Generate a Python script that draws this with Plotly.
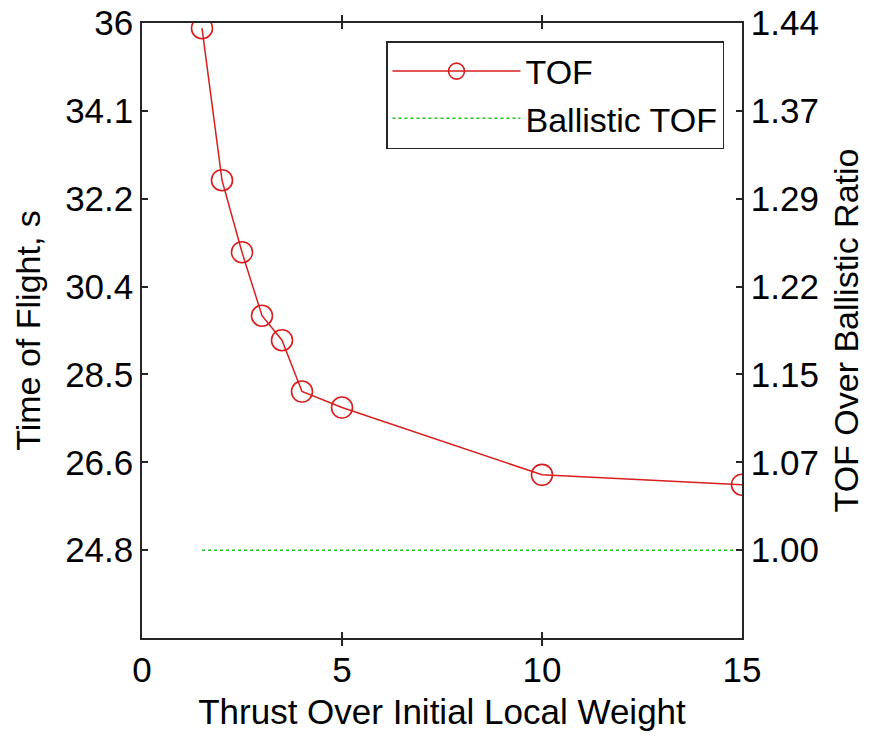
import plotly.graph_objects as go

# ---- data ----
thrust = [1.5, 2.0, 2.5, 3.0, 3.5, 4.0, 5.0, 10.0, 15.0]
tof = [35.89, 32.66, 31.13, 29.78, 29.26, 28.17, 27.83, 26.40, 26.19]
ballistic_x = [1.5, 15.0]
ballistic_tof = [24.8, 24.8]

x_ticks = [0, 5, 10, 15]
left_tickvals = [24.8, 26.667, 28.533, 30.4, 32.267, 34.133, 36.0]
left_ticktext = ["24.8", "26.6", "28.5", "30.4", "32.2", "34.1", "36"]
right_tickvals = [1.0, 1.0733, 1.1467, 1.22, 1.2933, 1.3667, 1.44]
right_ticktext = ["1.00", "1.07", "1.15", "1.22", "1.29", "1.37", "1.44"]

FONT = "Liberation Sans, Arial, sans-serif"
RED = "#d81e1e"
GREEN = "#1fc41f"
AX = "#262626"
FS = 35

fig = go.Figure()
fig.add_trace(go.Scatter(
    x=thrust, y=tof, name="TOF", mode="lines+markers",
    line=dict(color=RED, width=1.5),
    marker=dict(symbol="circle-open", size=21, color=RED, line=dict(width=1.6, color=RED)),
))
fig.add_trace(go.Scatter(
    x=ballistic_x, y=ballistic_tof, name="Ballistic TOF", mode="lines",
    line=dict(color=GREEN, width=1.5, dash="dot"),
))
fig.add_trace(go.Scatter(x=[None], y=[None], yaxis="y2", showlegend=False, hoverinfo="skip"))

fig.update_layout(
    width=874, height=737,
    margin=dict(l=142, r=132, t=23, b=99, autoexpand=False),
    paper_bgcolor="white", plot_bgcolor="white",
    font=dict(family=FONT, size=FS, color="black"),
    xaxis=dict(
        range=[0, 15], tickvals=x_ticks, ticks="inside", ticklen=6, tickwidth=1.5,
        tickcolor=AX, showline=True, linecolor=AX, linewidth=1.5, mirror="allticks",
        showgrid=False, zeroline=False, tickfont=dict(size=FS), automargin=False,
        title=dict(text="Thrust Over Initial Local Weight", font=dict(size=FS), standoff=12),
    ),
    yaxis=dict(
        range=[22.933, 36.0], tickvals=left_tickvals, ticktext=left_ticktext,
        ticks="inside", ticklen=6, tickwidth=1.5, tickcolor=AX,
        showline=True, linecolor=AX, linewidth=1.5, mirror=False, automargin=False,
        showgrid=False, zeroline=False, tickfont=dict(size=FS),
        title=dict(text="Time of Flight, s", font=dict(size=34), standoff=14),
    ),
    yaxis2=dict(
        range=[0.9267, 1.44], tickvals=right_tickvals, ticktext=right_ticktext,
        overlaying="y", side="right", automargin=False,
        ticks="inside", ticklen=6, tickwidth=1.5, tickcolor=AX,
        showline=True, linecolor=AX, linewidth=1.5,
        showgrid=False, zeroline=False, tickfont=dict(size=FS),
        title=dict(text="TOF Over Ballistic Ratio", font=dict(size=34), standoff=16),
    ),
    legend=dict(
        x=0.97, y=0.9707, xanchor="right", yanchor="top",
        bgcolor="white", bordercolor=AX, borderwidth=1.5,
        font=dict(size=34), itemwidth=128, tracegroupgap=0,
    ),
    showlegend=True,
)

fig.write_html("out.html")
